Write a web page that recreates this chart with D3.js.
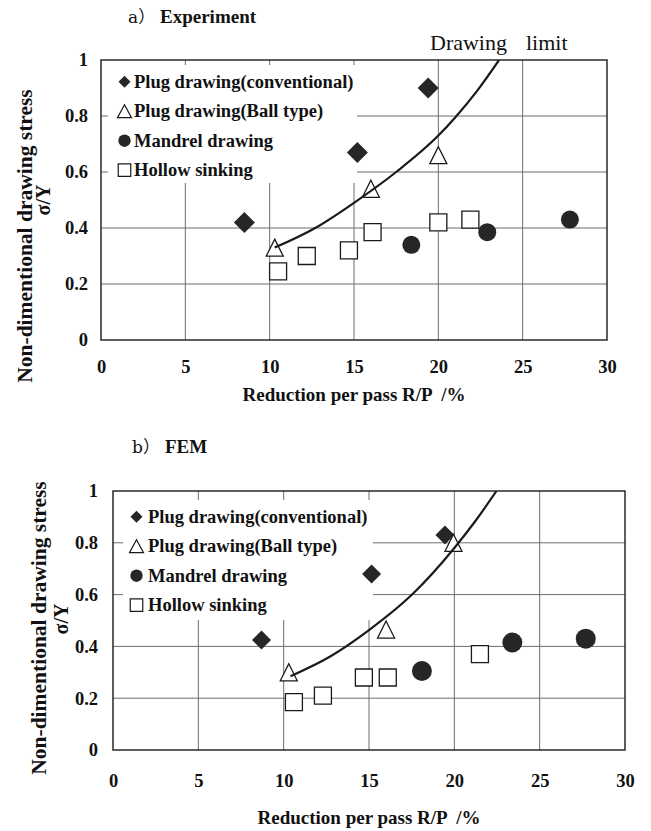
<!DOCTYPE html>
<html>
<head>
<meta charset="utf-8">
<script src="https://cdn.jsdelivr.net/npm/d3@7"></script>
<style>
  html, body { margin: 0; padding: 0; background: #fff; }
  svg { display: block; }
  text { font-family: "Liberation Serif", "Times New Roman", serif; fill: #111; }
</style>
</head>
<body>
<svg id="chart" width="651" height="831"></svg>
<script>
// axis ticks
const xTicks = [0, 5, 10, 15, 20, 25, 30];
const yTicks = [0, 0.2, 0.4, 0.6, 0.8, 1];
const legendNames = ['Plug drawing(conventional)', 'Plug drawing(Ball type)', 'Mandrel drawing', 'Hollow sinking'];

// a) Experiment  -> [reduction per pass %, sigma/Y]
const expConventional = [[8.5, 0.42], [15.2, 0.67], [19.4, 0.90]];
const expBall         = [[10.3, 0.33], [16.0, 0.54], [20.0, 0.66]];
const expMandrel      = [[18.4, 0.34], [22.9, 0.385], [27.8, 0.43]];
const expHollow       = [[10.5, 0.245], [12.2, 0.30], [14.7, 0.32], [16.1, 0.385], [20.0, 0.42], [21.9, 0.43]];
const expLimitCurve   = [[10.3, 0.33], [12.7, 0.40], [15.0, 0.49], [17.5, 0.60], [20.0, 0.73], [21.0, 0.795], [22.3, 0.89], [23.6, 1.0]];

// b) FEM
const femConventional = [[8.7, 0.425], [15.15, 0.68], [19.45, 0.83]];
const femBall         = [[10.3, 0.30], [16.0, 0.465], [19.95, 0.80]];
const femMandrel      = [[18.1, 0.305], [23.4, 0.415], [27.7, 0.43]];
const femHollow       = [[10.6, 0.185], [12.3, 0.21], [14.7, 0.28], [16.1, 0.28], [21.5, 0.37]];
const femLimitCurve   = [[10.4, 0.285], [12.7, 0.36], [15.0, 0.463], [17.6, 0.605], [20.0, 0.78], [21.3, 0.89], [22.47, 1.0]];

const svg = d3.select('#chart');
const INK = '#1a1a1a';
const GRID = '#6e6e6e';

// marker shapes centred on 0,0
function diamondPath(h) { return `M0,${-h}L${h},0L0,${h}L${-h},0Z`; }
function trianglePath(w, h) { return `M0,${-h / 2}L${w / 2},${h / 2}L${-w / 2},${h / 2}Z`; }
function squarePath(s) { return `M${-s / 2},${-s / 2}h${s}v${s}h${-s}Z`; }

const panels = [
  {
    id: 'exp', tag: 'a\uFF09', name: 'Experiment',
    left: 101, right: 607, top: 60, bottom: 340,
    tagX: 128, nameX: 160, titleBase: 23,
    conventional: expConventional, ball: expBall, mandrel: expMandrel, hollow: expHollow, curve: expLimitCurve,
    diamond: 10.5, circle: 9, tri: 17, sq: 17,
    legend: { x0: 108, y0: 65, x1: 357, y1: 183, symX: 124.5, textX: 134, row0: 81.7 },
    yTitle: { x: 25, y: 236, sx: 43, sy: 200 },
    xTitleBase: 401, xPad: 20, yPad: 13,
    showLimit: true
  },
  {
    id: 'fem', tag: 'b\uFF09', name: 'FEM',
    left: 113, right: 625, top: 491, bottom: 750,
    tagX: 132, nameX: 165, titleBase: 453,
    conventional: femConventional, ball: femBall, mandrel: femMandrel, hollow: femHollow, curve: femLimitCurve,
    diamond: 9.5, circle: 10, tri: 17, sq: 17,
    legend: { x0: 123, y0: 500, x1: 373, y1: 620, symX: 136.5, textX: 148, row0: 516.7 },
    yTitle: { x: 39, y: 628, sx: 61, sy: 619 },
    xTitleBase: 824, xPad: 24, yPad: 15,
    showLimit: false
  }
];

panels.forEach(drawPanel);

function drawPanel(p) {
  const x = d3.scaleLinear().domain([0, 30]).range([p.left, p.right]);
  const y = d3.scaleLinear().domain([0, 1]).range([p.bottom, p.top]);
  const g = svg.append('g').attr('class', 'panel-' + p.id);

  // panel title
  const t = g.append('text').attr('y', p.titleBase).style('font-size', '19px');
  t.append('tspan').attr('x', p.tagX)
    .style('font-family', '"DejaVu Serif", "Noto Sans CJK JP", serif').style('font-size', '17px')
    .text(p.tag);
  t.append('tspan').attr('x', p.nameX).style('font-weight', 'bold').text(p.name);

  // grid
  g.selectAll('line.vgrid').data(xTicks.slice(1, -1)).join('line')
    .attr('class', 'vgrid')
    .attr('x1', d => x(d)).attr('x2', d => x(d))
    .attr('y1', p.top).attr('y2', p.bottom)
    .attr('stroke', GRID).attr('stroke-width', 1);
  g.selectAll('line.hgrid').data(yTicks.slice(1, -1)).join('line')
    .attr('class', 'hgrid')
    .attr('x1', p.left).attr('x2', p.right)
    .attr('y1', d => y(d)).attr('y2', d => y(d))
    .attr('stroke', GRID).attr('stroke-width', 1);

  // legend background hides grid
  const L = p.legend;
  g.append('rect')
    .attr('x', L.x0).attr('y', L.y0)
    .attr('width', L.x1 - L.x0).attr('height', L.y1 - L.y0)
    .attr('fill', '#fff');

  // frame
  g.append('rect')
    .attr('x', p.left).attr('y', p.top)
    .attr('width', p.right - p.left).attr('height', p.bottom - p.top)
    .attr('fill', 'none').attr('stroke', INK).attr('stroke-width', 1.4);

  // axes (labels only)
  const xAxis = g.append('g')
    .attr('transform', `translate(0,${p.bottom})`)
    .call(d3.axisBottom(x).tickValues(xTicks).tickSize(0).tickPadding(p.xPad).tickFormat(d3.format('d')));
  const yAxis = g.append('g')
    .attr('transform', `translate(${p.left},0)`)
    .call(d3.axisLeft(y).tickValues(yTicks).tickSize(0).tickPadding(p.yPad).tickFormat(d => d === 0 || d === 1 ? d3.format('d')(d) : d3.format('.1f')(d)));
  [xAxis, yAxis].forEach(a => {
    a.select('.domain').remove();
    a.selectAll('text')
      .attr('fill', '#111')
      .style('font-family', '"Liberation Serif", "Times New Roman", serif')
      .style('font-size', '18.5px').style('font-weight', 'bold');
  });

  // axis titles
  g.append('text')
    .attr('x', (p.left + p.right) / 2).attr('y', p.xTitleBase)
    .attr('text-anchor', 'middle')
    .style('font-size', '19px').style('font-weight', 'bold')
    .attr('xml:space', 'preserve')
    .text('Reduction per pass R/P  /%');
  g.append('text')
    .attr('transform', `translate(${p.yTitle.x},${p.yTitle.y}) rotate(-90)`)
    .attr('text-anchor', 'middle').attr('dominant-baseline', 'central')
    .style('font-size', '21.5px').style('font-weight', 'bold')
    .text('Non-dimentional drawing stress');
  g.append('text')
    .attr('transform', `translate(${p.yTitle.sx},${p.yTitle.sy}) rotate(-90)`)
    .attr('text-anchor', 'middle').attr('dominant-baseline', 'central')
    .style('font-size', '20px').style('font-weight', 'bold')
    .text('\u03C3/Y');

  if (p.showLimit) {
    const lt = g.append('text').attr('y', 50).style('font-size', '22px');
    lt.append('tspan').attr('x', 430).text('Drawing');
    lt.append('tspan').attr('x', 526).text('limit');
  }

  // markers
  g.selectAll('path.hollow').data(p.hollow).join('path')
    .attr('class', 'hollow')
    .attr('transform', d => `translate(${x(d[0])},${y(d[1])})`)
    .attr('d', squarePath(p.sq))
    .attr('fill', '#fff').attr('stroke', INK).attr('stroke-width', 1.3);
  g.selectAll('path.ball').data(p.ball).join('path')
    .attr('class', 'ball')
    .attr('transform', d => `translate(${x(d[0])},${y(d[1])})`)
    .attr('d', trianglePath(p.tri, p.tri))
    .attr('fill', '#fff').attr('stroke', INK).attr('stroke-width', 1.3);
  g.selectAll('circle.mandrel').data(p.mandrel).join('circle')
    .attr('class', 'mandrel')
    .attr('cx', d => x(d[0])).attr('cy', d => y(d[1])).attr('r', p.circle)
    .attr('fill', '#262626');
  g.selectAll('path.conv').data(p.conventional).join('path')
    .attr('class', 'conv')
    .attr('transform', d => `translate(${x(d[0])},${y(d[1])})`)
    .attr('d', diamondPath(p.diamond))
    .attr('fill', '#262626');

  // drawing limit curve
  const clipId = 'clip-' + p.id;
  g.append('clipPath').attr('id', clipId).append('rect')
    .attr('x', p.left).attr('y', p.top)
    .attr('width', p.right - p.left).attr('height', p.bottom - p.top);
  g.append('path')
    .datum(p.curve)
    .attr('clip-path', `url(#${clipId})`)
    .attr('fill', 'none').attr('stroke', INK).attr('stroke-width', 2.2)
    .attr('d', d3.line().x(d => x(d[0])).y(d => y(d[1])).curve(d3.curveMonotoneX));

  // legend
  const symbols = [
    { d: diamondPath(6), fill: '#262626', stroke: 'none' },
    { d: trianglePath(14, 13), fill: '#fff', stroke: INK },
    { circle: 6.2, fill: '#262626', stroke: 'none' },
    { d: squarePath(12.5), fill: '#fff', stroke: INK }
  ];
  const rows = g.selectAll('g.legend-row').data(legendNames).join('g')
    .attr('class', 'legend-row')
    .attr('transform', (d, i) => `translate(0,${L.row0 + i * 29.5})`);
  rows.each(function (name, i) {
    const row = d3.select(this);
    const s = symbols[i];
    if (s.circle) {
      row.append('circle').attr('cx', L.symX).attr('cy', 0).attr('r', s.circle).attr('fill', s.fill);
    } else {
      row.append('path').attr('transform', `translate(${L.symX},0)`).attr('d', s.d)
        .attr('fill', s.fill).attr('stroke', s.stroke).attr('stroke-width', 1.2);
    }
    row.append('text')
      .attr('x', L.textX).attr('y', 0).attr('dominant-baseline', 'central')
      .style('font-size', '18.5px').style('font-weight', 'bold')
      .text(name);
  });
}
</script>
</body>
</html>
